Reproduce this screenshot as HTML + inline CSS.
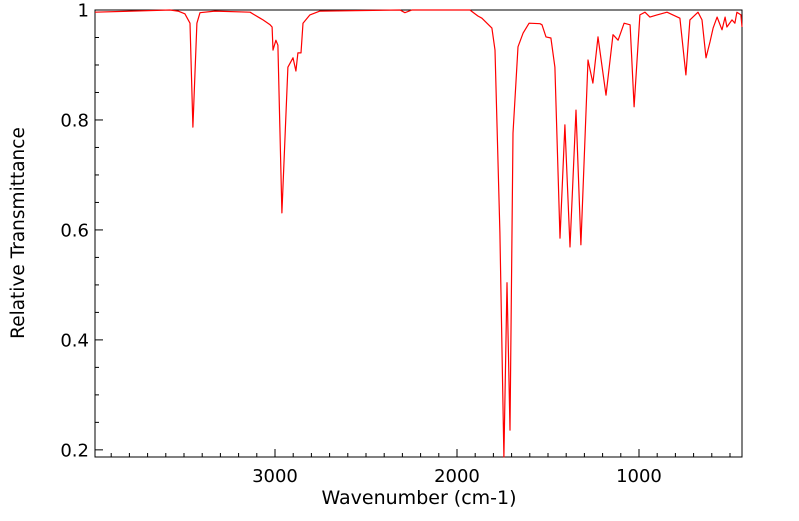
<!DOCTYPE html>
<html><head><meta charset="utf-8"><style>
html,body{margin:0;padding:0;background:#fff;}
svg text{font-family:"DejaVu Sans","Liberation Sans",sans-serif;fill:#000;}
</style></head><body>
<svg id="chart" width="799" height="516" xmlns="http://www.w3.org/2000/svg">
<rect x="95" y="10" width="647" height="447" fill="none" stroke="#000" stroke-width="1"/>
<g id="ticks"></g>
<path id="series" fill="none" stroke="#ff0000" stroke-width="1.2" stroke-linejoin="round"/>
<text x="419" y="504" font-size="19" text-anchor="middle">Wavenumber (cm-1)</text>
<text transform="translate(24,233) rotate(-90)" font-size="18.5" text-anchor="middle">Relative Transmittance</text>
</svg>
<script>
const wavenumbers=[3989,3577,3533,3495,3467,3451,3429,3412,3330,3137,3082,3066,3027,3016,3011,2995,2984,2962,2929,2901,2885,2874,2857,2846,2808,2753,2313,2286,2247,1929,1885,1863,1808,1791,1764,1742,1725,1709,1692,1665,1637,1604,1544,1533,1511,1484,1462,1434,1407,1379,1346,1319,1280,1253,1225,1181,1143,1115,1082,1049,1027,995,967,940,901,846,775,742,720,676,654,632,610,593,571,544,527,517,489,473,462,440,434];
const transmittance=[0.996,1.0,0.998,0.993,0.976,0.787,0.976,0.995,0.998,0.996,0.985,0.982,0.973,0.969,0.927,0.945,0.936,0.631,0.896,0.913,0.889,0.922,0.922,0.976,0.991,0.998,1.0,0.995,1.0,1.0,0.989,0.985,0.967,0.927,0.595,0.187,0.504,0.236,0.776,0.933,0.958,0.976,0.975,0.973,0.951,0.949,0.896,0.585,0.791,0.569,0.818,0.573,0.909,0.867,0.951,0.845,0.955,0.945,0.976,0.973,0.824,0.991,0.996,0.987,0.991,0.996,0.985,0.882,0.982,0.996,0.982,0.913,0.942,0.967,0.987,0.964,0.987,0.969,0.982,0.976,0.996,0.991,0.969];
const xTicks=[3000,2000,1000];
const yTicks=[0.2,0.4,0.6,0.8,1];
const X0=95,X1=742,Y0=457,Y1=10;
const WMAX=3989,WMIN=434,TMIN=0.187,TMAX=1.0;
function xs(w){return X0+(WMAX-w)/(WMAX-WMIN)*(X1-X0);}
function ys(t){return Y0-(t-TMIN)/(TMAX-TMIN)*(Y0-Y1);}
const NS="http://www.w3.org/2000/svg";
let d="";
for(let i=0;i<wavenumbers.length;i++){d+=(i?"L":"M")+xs(wavenumbers[i]).toFixed(1)+","+ys(transmittance[i]).toFixed(1);}
document.getElementById("series").setAttribute("d",d);
const g=document.getElementById("ticks");
function line(x1,y1,x2,y2){const l=document.createElementNS(NS,"line");l.setAttribute("x1",x1);l.setAttribute("y1",y1);l.setAttribute("x2",x2);l.setAttribute("y2",y2);l.setAttribute("stroke","#000");


g.appendChild(l);}
for(let w=500;w<=3900;w+=100){const x=xs(w);const major=xTicks.includes(w);line(x,Y0,x,Y0-(major?8:4));}
for(let t=0.2;t<=1.0001;t+=0.05){const y=ys(t);const major=Math.abs(Math.round(t*5)-t*5)<1e-6;line(X0,y,X0+(major?8:4),y);}
xTicks.forEach(w=>{const t=document.createElementNS(NS,"text");t.setAttribute("x",xs(w));t.setAttribute("y",482);t.setAttribute("font-size","18");t.setAttribute("text-anchor","middle");t.textContent=w;


g.appendChild(t);});
yTicks.forEach(v=>{const t=document.createElementNS(NS,"text");t.setAttribute("x",89);t.setAttribute("y",ys(v)+6.5);t.setAttribute("font-size","18");t.setAttribute("text-anchor","end");t.textContent=(v===1?"1":v.toFixed(1));


g.appendChild(t);});
</script>
</body></html>
